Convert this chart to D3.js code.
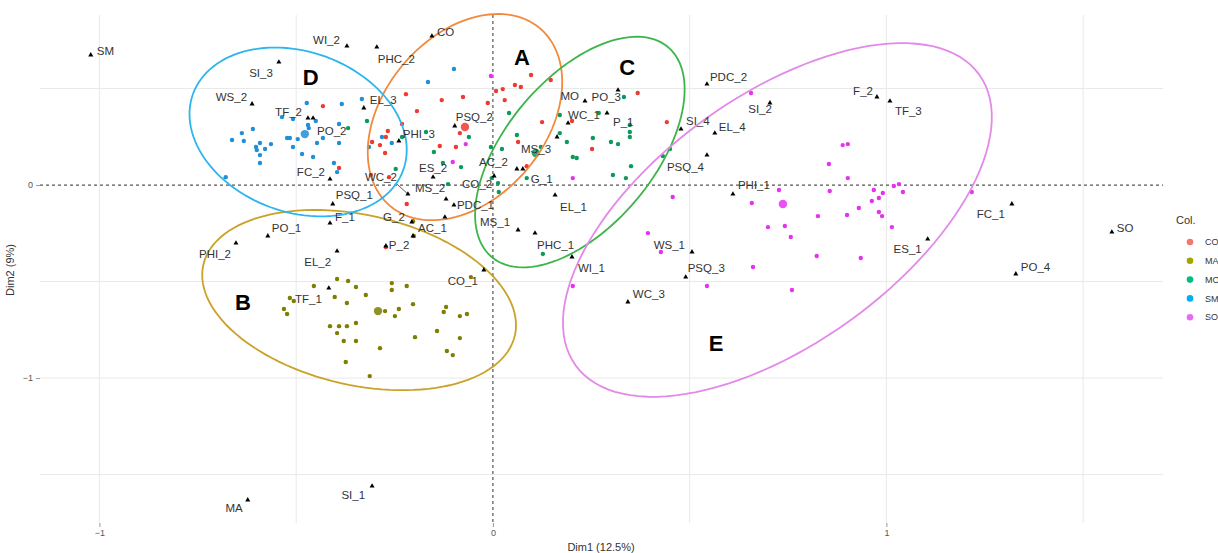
<!DOCTYPE html>
<html lang="en">
<head>
<meta charset="UTF-8" />
<title>MCA individuals and categories</title>
<script src="https://cdnjs.cloudflare.com/ajax/libs/d3/7.8.5/d3.min.js"></script>
<style>
  body { margin: 0; background: #fff; }
  text { font-family: "Liberation Sans", Arial, sans-serif; }
</style>
</head>
<body>
<div id="chart"></div>
<script>
// individuals per group, [Dim1, Dim2]
const groups = ["CO", "MA", "MO", "SM", "SO"];

const ptsCO = [[0.097,0.570],[0.147,0.544],[0.056,0.518],[0.071,0.508],[0.025,0.497],[0.008,0.487],[0.030,0.440],[-0.013,0.425],
  [0.125,0.326],[-0.076,0.456],[-0.130,0.440],[-0.193,0.383],[-0.221,0.471],[-0.084,0.269],[-0.094,0.197],[-0.135,0.202],
  [0.086,0.098],[0.064,0.223],[-0.267,0.280],[-0.272,0.249],[-0.287,0.207],[-0.274,0.166],[-0.307,0.223],[-0.264,0.041],
  [-0.219,-0.098],[0.368,0.477],[0.442,0.326],[0.252,0.187],[0.201,0.332],[-0.432,0.409],[-0.391,0.088],[-0.231,0.316],
  [-0.310,0.052],[-0.272,-0.321]];

const ptsMA = [[-0.396,-0.487],[-0.368,-0.497],[-0.455,-0.523],[-0.348,-0.528],[-0.516,-0.585],[-0.506,-0.601],[-0.531,-0.642],
  [-0.523,-0.668],[-0.402,-0.580],[-0.371,-0.611],[-0.323,-0.570],[-0.257,-0.508],[-0.257,-0.544],[-0.219,-0.523],[-0.203,-0.617],
  [-0.274,-0.653],[-0.239,-0.642],[-0.249,-0.679],[-0.414,-0.731],[-0.391,-0.731],[-0.371,-0.731],[-0.348,-0.715],[-0.396,-0.767],
  [-0.379,-0.808],[-0.348,-0.808],[-0.287,-0.845],[-0.374,-0.917],[-0.313,-0.990],[-0.198,-0.788],[-0.142,-0.756],[-0.125,-0.658],
  [-0.119,-0.632],[-0.084,-0.679],[-0.066,-0.668],[-0.084,-0.793],[-0.117,-0.860],[-0.102,-0.881],[-0.056,-0.477],[-0.203,-0.187],
  [-0.201,-0.264]];

const ptsMO = [[-0.320,0.332],[-0.368,0.295],[-0.247,0.083],[-0.231,0.249],[-0.170,0.275],[-0.150,0.171],[-0.127,0.114],[-0.081,0.093],
  [-0.061,0.249],[-0.114,0.005],[-0.005,0.197],[0.023,0.187],[0.041,0.373],[0.061,0.259],[0.122,0.197],[-0.003,0.036],[0.013,0.010],
  [0.015,-0.036],[0.086,0.036],[0.127,-0.357],[0.170,0.363],[0.170,0.269],[0.188,0.223],[0.203,0.145],[0.213,0.140],[0.254,0.244],
  [0.269,0.373],[0.300,0.223],[0.318,0.212],[0.333,0.456],[0.348,0.311],[0.348,0.275],[0.348,0.249],[0.351,0.098],[0.305,0.052],
  [0.338,0.036],[0.450,0.187],[0.432,0.150]];

const ptsSM = [[-0.473,0.425],[-0.384,0.420],[-0.333,0.446],[-0.536,0.352],[-0.508,0.342],[-0.470,0.311],[-0.450,0.332],[-0.391,0.316],
  [-0.468,0.295],[-0.638,0.269],[-0.610,0.290],[-0.663,0.233],[-0.633,0.228],[-0.592,0.218],[-0.564,0.212],[-0.602,0.197],
  [-0.600,0.181],[-0.579,0.187],[-0.592,0.155],[-0.592,0.114],[-0.523,0.244],[-0.516,0.244],[-0.496,0.238],[-0.508,0.197],
  [-0.432,0.244],[-0.447,0.218],[-0.485,0.161],[-0.457,0.145],[-0.391,0.218],[-0.404,0.114],[-0.396,0.067],[-0.679,0.041],
  [-0.315,0.197],[-0.282,0.249],[-0.257,0.218],[-0.099,0.601],[-0.165,0.534]];

const ptsSO = [[-0.005,0.565],[-0.069,0.212],[-0.102,0.119],[0.203,0.036],[0.457,-0.062],[0.394,-0.249],[0.427,-0.347],[0.203,-0.523],
  [0.544,-0.523],[0.656,0.477],[0.889,0.207],[0.902,0.212],[0.854,0.109],[0.902,0.036],[0.727,-0.026],[0.856,-0.031],[0.968,-0.026],
  [1.019,-0.005],[1.032,0.005],[1.042,-0.036],[0.991,-0.041],[0.981,-0.067],[0.963,-0.083],[0.930,-0.119],[0.981,-0.140],
  [0.989,-0.161],[0.900,-0.155],[0.826,-0.161],[0.658,-0.093],[0.742,-0.212],[0.699,-0.218],[0.757,-0.269],[1.014,-0.218],
  [0.823,-0.368],[0.935,-0.378],[0.661,-0.425],[0.760,-0.544],[1.217,-0.036]];

const groupPoints = [ptsCO, ptsMA, ptsMO, ptsSM, ptsSO];
const centroidX = [-0.071, -0.292, 0.109, -0.478, 0.737];
const centroidY = [0.301, -0.653, 0.166, 0.264, -0.098];

// supplementary categories (black triangles)
const supNames = ["SM","SI_3","WS_2","TF_2","PO_2","EL_3","FC_2","PSQ_1","F_1","PO_1","PHI_2","EL_2","TF_1","MA","SI_1",
  "WI_2","PHC_2","CO","PHI_3","PSQ_2","ES_2","WC_2","MS_2","PDC_1","","CO_2","AC_2","G_1","MS_3","G_2","AC_1","P_2","CO_1",
  "MS_1","PHC_1","EL_1","WI_1","MO","PO_3","WC_1","P_1","PDC_2","SI_2","F_2","TF_3","SI_4","EL_4","PSQ_4","PHI_1","WS_1",
  "PSQ_3","WC_3","ES_1","FC_1","SO","PO_4"];
const supX = [-1.022,-0.544,-0.612,-0.470,-0.457,-0.328,-0.414,-0.407,-0.414,-0.572,-0.653,-0.396,-0.417,-0.623,-0.307,
  -0.371,-0.295,-0.155,-0.239,-0.097,-0.152,-0.216,-0.119,-0.099,-0.122,0.003,0.061,0.076,0.163,-0.206,-0.203,-0.272,-0.023,
  0.064,0.107,0.158,0.201,0.234,0.318,0.191,0.290,0.544,0.704,0.976,1.009,0.478,0.564,0.544,0.610,0.506,
  0.490,0.343,1.105,1.319,1.573,1.329];
const supY = [0.674,0.637,0.420,0.347,0.347,0.399,0.031,-0.098,-0.197,-0.264,-0.301,-0.342,-0.534,-1.632,-1.560,
  0.720,0.715,0.772,0.228,0.306,0.041,-0.047,-0.073,-0.104,-0.166,0.047,0.083,0.083,0.249,-0.192,-0.264,-0.316,-0.440,
  -0.233,-0.249,-0.052,-0.373,0.435,0.492,0.321,0.373,0.523,0.425,0.456,0.435,0.290,0.269,0.155,-0.047,-0.347,
  -0.477,-0.606,-0.280,-0.098,-0.244,-0.461];

// label placement (anchor, dx, dy in px) -- repel-like layout
const nudge = [["start",6,-4],["end",-6,11],["end",-5,-7],["end",-6,-6],["start",4,13],["start",6,-8],["end",-5,-7],
  ["start",3,-9],["start",5,-6],["start",4,-8],["end",-5,11],["end",-6,11],["end",-7,11],["end",-5,8],["end",-7,9],
  ["end",-7,-6],["start",1,12],["start",5,-4],["start",4,-7],["start",1,-9],["middle",0,-9],["end",-11,-17],["end",-1,-11],
  ["start",3,0],["start",0,0],["end",-2,8],["end",-9,-7],["start",8,10],["end",-6,12],["end",-7,-5],["start",5,-8],
  ["start",3,-1],["end",-6,11],["end",-8,-8],["start",2,12],["start",5,12],["start",6,11],["end",-6,-5],["end",3,7],
  ["start",0,-8],["start",6,9],["start",3,-7],["end",2,6],["end",-4,-6],["start",5,10],["start",5,-8],["start",4,-6],
  ["end",-3,12],["start",5,-9],["end",-7,-7],["start",2,-9],["start",5,-8],["end",-6,10],["end",-7,10],["start",5,-4],
  ["start",5,-7]];

// concentration ellipses: centre and two conjugate semi-axes (data units)
const ellLetters = ["A","B","C","D","E"];
const ellCenter = [[-0.071,0.352],[-0.340,-0.596],[0.221,0.171],[-0.495,0.275],[0.723,-0.181]];
const ellU = [[0.190,0.461],[0.396,-0.182],[0.224,0.544],[0.267,-0.198],[0.513,0.753]];
const ellV = [[0.158,-0.270],[-0.047,-0.430],[0.144,-0.247],[-0.070,-0.390],[0.184,-0.522]];
const letterPos = [[0.074,0.663],[-0.635,-0.606],[0.341,0.611],[-0.463,0.560],[0.567,-0.819]];

const xTicks = [-1, 0, 1];
const yTicks = [0, -1];

// colours
const dotColor = ["#EE3A30", "#7E7E00", "#0B9A5A", "#1E8FD8", "#E632F0"];
const keyColor = ["#F8766D", "#A3A500", "#00BF7D", "#00B0F6", "#E76BF3"];
const ellColor = ["#F28A3E", "#C9A227", "#3DB54A", "#2CB6EC", "#E389E8"];

const W = 1218, H = 553;
const svg = d3.select("#chart").append("svg").attr("width", W).attr("height", H);

const x = d3.scaleLinear().domain([-1.151, 1.703]).range([40, 1163]);
const y = d3.scaleLinear().domain([0.881, -1.751]).range([15, 523]);

// grid
const grid = svg.append("g");
grid.selectAll("line.vx").data([-1, -0.5, 0.5, 1, 1.5]).join("line")
  .attr("x1", d => x(d)).attr("x2", d => x(d)).attr("y1", 15).attr("y2", 523)
  .attr("stroke", "#e9e9e9").attr("stroke-width", 1);
grid.selectAll("line.hy").data([0.5, -0.5, -1, -1.5]).join("line")
  .attr("y1", d => y(d)).attr("y2", d => y(d)).attr("x1", 40).attr("x2", 1163)
  .attr("stroke", "#e9e9e9").attr("stroke-width", 1);

// axes
const xAxis = svg.append("g").attr("transform", "translate(0,523)")
  .call(d3.axisBottom(x).tickValues(xTicks).tickSize(4).tickFormat(d3.format("d")));
const yAxis = svg.append("g").attr("transform", "translate(40,0)")
  .call(d3.axisLeft(y).tickValues(yTicks).tickSize(4).tickFormat(d3.format("d")));
[xAxis, yAxis].forEach(a => {
  a.select(".domain").remove();
  a.selectAll(".tick line").attr("stroke", "#999");
  a.selectAll(".tick text").attr("fill", "#555").style("font-size", "9px")
    .style("font-family", "'Liberation Sans', Arial, sans-serif");
});

// zero lines
svg.append("line").attr("x1", x(0)).attr("x2", x(0)).attr("y1", 15).attr("y2", 523)
  .attr("stroke", "#555").attr("stroke-width", 1.2).attr("stroke-dasharray", "3,3");
svg.append("line").attr("y1", y(0)).attr("y2", y(0)).attr("x1", 40).attr("x2", 1163)
  .attr("stroke", "#555").attr("stroke-width", 1.2).attr("stroke-dasharray", "3,3");

// individuals
groupPoints.forEach((pts, i) => {
  svg.append("g").selectAll("circle").data(pts).join("circle")
    .attr("cx", d => x(d[0])).attr("cy", d => y(d[1])).attr("r", 2.2)
    .attr("fill", dotColor[i]);
  svg.append("circle").attr("cx", x(centroidX[i])).attr("cy", y(centroidY[i]))
    .attr("r", 4.2).attr("fill", dotColor[i]).attr("opacity", 0.85);
});

// ellipses
const line = d3.line().x(d => x(d[0])).y(d => y(d[1])).curve(d3.curveLinearClosed);
ellCenter.forEach((c, i) => {
  const pts = d3.range(0, 120).map(k => {
    const t = k / 120 * 2 * Math.PI;
    return [c[0] + Math.cos(t) * ellU[i][0] + Math.sin(t) * ellV[i][0],
            c[1] + Math.cos(t) * ellU[i][1] + Math.sin(t) * ellV[i][1]];
  });
  svg.append("path").attr("d", line(pts)).attr("fill", "none")
    .attr("stroke", ellColor[i]).attr("stroke-width", 1.8);
});

// segment for the pushed label
const wi = supNames.indexOf("WC_2");
svg.append("line")
  .attr("x1", x(supX[wi]) - 11).attr("y1", y(supY[wi]) - 10)
  .attr("x2", x(supX[wi]) - 1).attr("y2", y(supY[wi]) - 1)
  .attr("stroke", "#333").attr("stroke-width", 0.8);

// supplementary categories
const tri = d3.symbol(d3.symbolTriangle).size(11);
svg.append("g").selectAll("path").data(supNames).join("path")
  .attr("d", tri)
  .attr("transform", (d, i) => `translate(${x(supX[i])},${y(supY[i])})`)
  .attr("fill", "#000");
svg.append("g").selectAll("text").data(supNames).join("text")
  .attr("x", (d, i) => x(supX[i]) + nudge[i][1])
  .attr("y", (d, i) => y(supY[i]) + nudge[i][2])
  .attr("dy", "0.35em")
  .attr("text-anchor", (d, i) => nudge[i][0])
  .attr("fill", "#333").style("font-size", "11.5px")
  .text(d => d);

// ellipse letters
svg.append("g").selectAll("text").data(ellLetters).join("text")
  .attr("x", (d, i) => x(letterPos[i][0])).attr("y", (d, i) => y(letterPos[i][1]))
  .attr("dy", "0.35em").attr("text-anchor", "middle")
  .style("font-size", "22px").style("font-weight", "bold").attr("fill", "#000")
  .text(d => d);

// axis titles
svg.append("text").attr("x", 601).attr("y", 551).attr("text-anchor", "middle")
  .attr("fill", "#333").style("font-size", "11px").text("Dim1 (12.5%)");
svg.append("text").attr("transform", "translate(14,270) rotate(-90)").attr("text-anchor", "middle")
  .attr("fill", "#333").style("font-size", "11px").text("Dim2 (9%)");

// legend
const leg = svg.append("g");
leg.append("text").attr("x", 1176).attr("y", 224).attr("fill", "#333")
  .style("font-size", "11px").text("Col.");
groups.forEach((g, i) => {
  leg.append("circle").attr("cx", 1190).attr("cy", 242 + i * 18.8).attr("r", 3.3).attr("fill", keyColor[i]);
  leg.append("text").attr("x", 1205).attr("y", 242 + i * 18.8).attr("dy", "0.35em")
    .attr("fill", "#333").style("font-size", "9px").text(g);
});
</script>
</body>
</html>
